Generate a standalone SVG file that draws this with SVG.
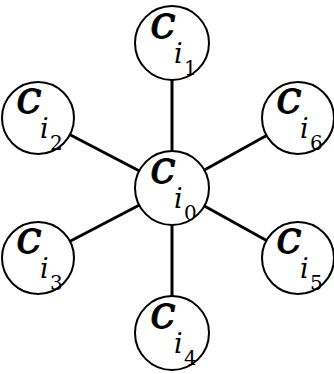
<svg xmlns="http://www.w3.org/2000/svg" width="334" height="374" viewBox="0 0 334 374">
<defs>
<style>
.nd circle{fill:#fff;stroke:#000;stroke-width:2}
#edges line{stroke:#000;stroke-width:3}
.c{font-family:'DejaVu Serif',serif;font-style:italic;font-size:46px;fill:#000;stroke:#000;stroke-width:0.8}
.i{font-family:'DejaVu Serif',serif;font-style:italic;font-size:27px;fill:#000}
.d{font-family:'DejaVu Serif',serif;font-size:20px;fill:#000}
</style>
</defs>
<rect width="334" height="374" fill="#fff"/>
<g id="edges">
<line x1="172" y1="188" x2="172" y2="43"/>
<line x1="172" y1="188" x2="172" y2="333"/>
<line x1="172" y1="188" x2="38" y2="118"/>
<line x1="172" y1="188" x2="38" y2="258"/>
<line x1="172" y1="188" x2="298" y2="118"/>
<line x1="172" y1="188" x2="298" y2="258"/>
</g>
<g id="n1" class="nd" transform="translate(172,43)"><circle r="37"/><text class="c" x="-22" y="-5">c</text><text class="i" x="2" y="20">i</text><text class="d" x="12" y="32">1</text></g>
<g id="n2" class="nd" transform="translate(38,118)"><circle r="36"/><text class="c" x="-22" y="-5">c</text><text class="i" x="2" y="20">i</text><text class="d" x="12" y="32">2</text></g>
<g id="n3" class="nd" transform="translate(38,258)"><circle r="36"/><text class="c" x="-22" y="-5">c</text><text class="i" x="2" y="20">i</text><text class="d" x="12" y="32">3</text></g>
<g id="n0" class="nd" transform="translate(172,188)"><circle r="37"/><text class="c" x="-22" y="-5">c</text><text class="i" x="2" y="20">i</text><text class="d" x="12" y="32">0</text></g>
<g id="n6" class="nd" transform="translate(298,118)"><circle r="36"/><text class="c" x="-22" y="-5">c</text><text class="i" x="2" y="20">i</text><text class="d" x="12" y="32">6</text></g>
<g id="n5" class="nd" transform="translate(298,258)"><circle r="36"/><text class="c" x="-22" y="-5">c</text><text class="i" x="2" y="20">i</text><text class="d" x="12" y="32">5</text></g>
<g id="n4" class="nd" transform="translate(172,333)"><circle r="37"/><text class="c" x="-22" y="-5">c</text><text class="i" x="2" y="20">i</text><text class="d" x="12" y="32">4</text></g>
</svg>
